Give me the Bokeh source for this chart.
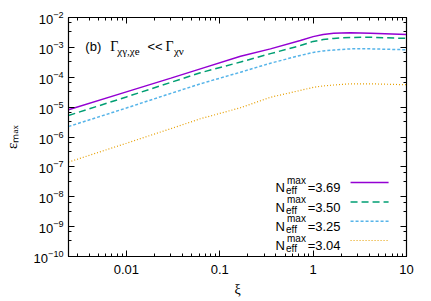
import math
from bokeh.plotting import figure
from bokeh.models import LogAxis, Label, CustomJSTickFormatter, LogTicker
from bokeh.embed import file_html
from bokeh.resources import INLINE

# ---- data ----
xi = [0.0024, 0.01, 0.03, 0.062, 0.167, 0.349, 0.73, 1.0, 1.28, 1.66, 2.0, 2.51, 4.1, 10.0]
log_eps_369 = [-5.09, -4.49, -4.03, -3.72, -3.30, -3.05, -2.77, -2.64, -2.57, -2.53, -2.52, -2.51, -2.53, -2.57]
log_eps_350 = [-5.28, -4.66, -4.17, -3.85, -3.49, -3.21, -2.94, -2.80, -2.74, -2.70, -2.68, -2.67, -2.66, -2.70]
log_eps_325 = [-5.65, -5.03, -4.54, -4.22, -3.83, -3.53, -3.27, -3.17, -3.12, -3.09, -3.07, -3.05, -3.05, -3.08]
log_eps_304 = [-6.84, -6.21, -5.72, -5.39, -5.02, -4.67, -4.44, -4.34, -4.29, -4.26, -4.24, -4.22, -4.22, -4.25]
neff_labels = ["3.69", "3.50", "3.25", "3.04"]

series = [log_eps_369, log_eps_350, log_eps_325, log_eps_304]
colors = ["#9400D3", "#009E73", "#56B4E9", "#E69F00"]
dashes = ["solid", "7 4", "3 2", "1 2"]
widths = [1.5, 1.5, 1.5, 1.2]

p = figure(width=431, height=301, x_axis_type="log", y_axis_type="log",
           x_range=(0.0024, 10), y_range=(1e-10, 1e-2),
           output_backend="svg", toolbar_location=None,
           min_border_left=68, min_border_right=25, min_border_top=17, min_border_bottom=45)
p.background_fill_color = "white"
p.border_fill_color = "white"
p.grid.visible = False
p.outline_line_color = "black"
p.outline_line_width = 1.2

for vals, c, d, w in zip(series, colors, dashes, widths):
    p.line(xi, [10 ** v for v in vals], line_color=c, line_dash=d, line_width=w)

FONT = "Liberation Sans"
for ax in [p.xaxis[0], p.yaxis[0]]:
    ax.major_label_text_font = FONT
    ax.major_label_text_font_size = "13px"
    ax.major_label_text_color = "black"
    ax.major_tick_in = 6
    ax.major_tick_out = 0
    ax.minor_tick_in = 3
    ax.minor_tick_out = 0
    ax.axis_line_color = "black"
    ax.major_tick_line_color = "black"
    ax.minor_tick_line_color = "black"
    ax.axis_label_text_font = "Liberation Serif"
    ax.axis_label_text_font_style = "normal"
    ax.axis_label_text_font_size = "14px"
    ax.axis_label_text_color = "black"

p.xaxis[0].ticker = LogTicker(desired_num_ticks=4, num_minor_ticks=10)
p.xaxis[0].ticker.mantissas = [1]
p.xaxis[0].formatter = CustomJSTickFormatter(code="return String(tick)")
p.xaxis[0].major_label_standoff = 8
p.xaxis[0].axis_label = "ξ"
p.xaxis[0].axis_label_standoff = 5

p.yaxis[0].ticker = LogTicker(desired_num_ticks=9, num_minor_ticks=3)
p.yaxis[0].major_label_standoff = 5
p.yaxis[0].axis_label = "εₘₐₓ"
p.yaxis[0].axis_label_text_font_size = "15px"
p.yaxis[0].axis_label_standoff = 11

# mirror axes (ticks only)
blank = CustomJSTickFormatter(code="return ''")
for loc in ["above", "right"]:
    ax = LogAxis(formatter=blank, major_tick_in=6, major_tick_out=0,
                 minor_tick_in=3, minor_tick_out=0, major_label_standoff=0)
    if loc == "above":
        ax.ticker = LogTicker(desired_num_ticks=4, num_minor_ticks=10)
        ax.ticker.mantissas = [1]
    else:
        ax.ticker = LogTicker(desired_num_ticks=9, num_minor_ticks=3)
    ax.major_label_text_font_size = "1px"
    p.add_layout(ax, loc)


# helpers mapping page pixels of the reference layout to data coords (for text placement)
def dx(px):
    return 10 ** (-2 + (px - 126) / 93.3)


def dy(py):
    return 10 ** (-2 - (py - 17) / 29.875)


def lab(text, px, py, size, font=FONT, align="left", angle=0.0):
    p.add_layout(Label(x=dx(px), y=dy(py), text=text, text_font=font,
                       text_font_size=f"{size}px", text_align=align,
                       text_baseline="alphabetic", angle=angle, text_color="black"))


# title annotation
lab("(b)", 85, 46, 13)
lab("Γ", 110, 46, 14, font="Liberation Serif")
lab("χγ,χe", 117, 50, 11, font="Liberation Serif")
lab("<<", 147, 46, 13)
lab("Γ", 165, 46, 14, font="Liberation Serif")
lab("χν", 173.5, 50, 11, font="Liberation Serif")

# legend
row_y = [182, 201.5, 220.8, 240]
for name, c, d, w, ry in zip(neff_labels, colors, dashes, widths, row_y):
    lab("N", 275, ry + 5, 13)
    lab("eff", 285.5, ry + 8, 10)
    lab("max", 286.5, ry - 2.5, 10)
    lab("=" + name, 340, ry + 5, 13, align="right")
    p.line([dx(350), dx(388)], [dy(ry), dy(ry)], line_color=c, line_dash=d, line_width=w)

open("out.html", "w").write(file_html(p, INLINE))
